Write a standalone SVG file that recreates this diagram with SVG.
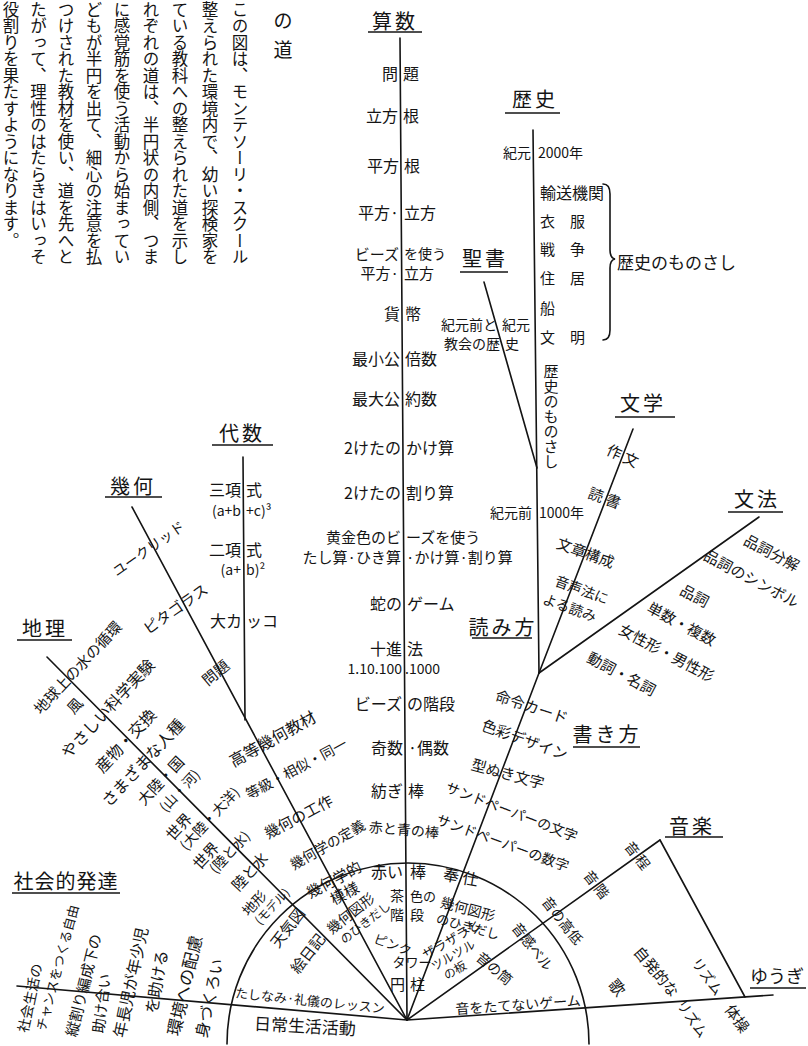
<svg xmlns="http://www.w3.org/2000/svg" width="808" height="1046" viewBox="0 0 808 1046">
<style>
text{font-family:"Noto Sans CJK JP","Noto Sans CJK SC",sans-serif;fill:#141414}
.c{text-anchor:middle;dominant-baseline:central}
.l{text-anchor:end;dominant-baseline:central}
.r{text-anchor:start;dominant-baseline:central}
.s{text-anchor:start;dominant-baseline:central}
.v{writing-mode:vertical-rl;font-size:16.5px}
.h{font-size:20px;letter-spacing:3px}
.ln{stroke:#141414;stroke-width:1.6;fill:none;stroke-linecap:round}
.u{stroke:#141414;stroke-width:1.5}
.f17{font-size:17px}.f16{font-size:16px}.f15{font-size:15px}.f14{font-size:14px}.f13{font-size:13px}.f12{font-size:12px}
</style>
<rect width="808" height="1046" fill="#fff"/>

<g id="connectors" class="ln">
<path d="M400,38 L407,1020"/>
<path d="M533,130 L539,673"/>
<path d="M484,282 L537,468"/>
<path d="M633,429 L539,673"/>
<path d="M759,517 L539,673"/>
<path d="M539,673 L407,1020"/>
<path d="M243,457 L245,720"/>
<path d="M132,507 L407,1020"/>
<path d="M47,657 L407,1020"/>
<path d="M660,840 L407,1020"/>
<path d="M660,840 L745,997"/>
<path d="M17,986 L407,1020"/>
<path d="M407,1020 L773,995"/>
<path d="M227,1044 A181,181 0 0 1 589,1044"/>
<path d="M603,184 Q610,184 610,194 L610,250 Q610,258 615,259 Q610,260 610,268 L610,330 Q610,340 603,340"/>
</g>

<g id="description">
<text class="c" x="283" y="19" style="font-size:19px">の</text>
<text class="c" x="283" y="48" style="font-size:19px">道</text>
<text class="v" x="240" y="1">この図は、モンテソーリ・スクール</text>
<text class="v" x="210" y="1">整えられた環境内で、幼い探検家を</text>
<text class="v" x="180" y="1">ている教科への整えられた道を示し</text>
<text class="v" x="151" y="1">れぞれの道は、半円状の内側、つま</text>
<text class="v" x="122" y="1">に感覚筋を使う活動から始まってい</text>
<text class="v" x="94" y="1">どもが半円を出て、細心の注意を払</text>
<text class="v" x="66" y="1">つけされた教材を使い、道を先へと</text>
<text class="v" x="38.5" y="1">たがって、理性のはたらきはいっそ</text>
<text class="v" x="11" y="1">役割りを果たすようになります。</text>
</g>

<g id="math" class="f16">
<text class="c h" x="395" y="20">算数</text>
<line class="u" x1="368" y1="32" x2="422" y2="32"/>
<text class="l" x="398" y="73">問</text><text class="r" x="403" y="73">題</text>
<text class="l" x="398" y="115">立方</text><text class="r" x="403" y="115">根</text>
<text class="l" x="399" y="165">平方</text><text class="r" x="404" y="165">根</text>
<text class="l" x="399" y="212">平方·</text><text class="r" x="404" y="212">立方</text>
<text class="l f15" x="399" y="253">ビーズ</text><text class="r f14" x="404" y="253">を使う</text>
<text class="l f15" x="399" y="272">平方·</text><text class="r f15" x="404" y="272">立方</text>
<text class="l" x="400" y="313">貨</text><text class="r" x="405" y="313">幣</text>
<text class="l" x="400" y="358">最小公</text><text class="r" x="405" y="358">倍数</text>
<text class="l" x="400" y="398">最大公</text><text class="r" x="405" y="398">約数</text>
<text class="l" x="401" y="447">2けたの</text><text class="r" x="406" y="447">かけ算</text>
<text class="l" x="401" y="492">2けたの</text><text class="r" x="406" y="492">割り算</text>
<text class="l f15" x="401" y="536">黄金色のビ</text><text class="r f15" x="406" y="536">ーズを使う</text>
<text class="l f15" x="401" y="556">たし算·ひき算</text><text class="r f15" x="406" y="556">·かけ算·割り算</text>
<text class="l" x="402" y="603">蛇の</text><text class="r" x="407" y="603">ゲーム</text>
<text class="l" x="402" y="648">十進</text><text class="r" x="407" y="648">法</text>
<text class="l f14" x="402" y="668">1.10.100</text><text class="r f14" x="405" y="668">.1000</text>
<text class="l" x="402" y="703">ビーズ</text><text class="r" x="407" y="703">の階段</text>
<text class="l" x="403" y="747">奇数</text><text class="r" x="408" y="747">·偶数</text>
<text class="l" x="403" y="790">紡ぎ</text><text class="r" x="408" y="790">棒</text>
<text class="c f14" transform="translate(404,829) rotate(5)">赤と青の棒</text>
</g>

<g id="history" class="f16">
<text class="c h" x="535" y="98">歴史</text>
<line class="u" x1="505" y1="113" x2="560" y2="113"/>
<text class="l f14" x="531" y="152">紀元</text><text class="r f14" x="538" y="152">2000年</text>
<text class="r" x="540" y="192">輸送機関</text>
<text class="r f15" x="540" y="220">衣　服</text>
<text class="r f15" x="540" y="248">戦　争</text>
<text class="r f15" x="540" y="277">住　居</text>
<text class="r f15" x="540" y="307">船</text>
<text class="r f15" x="540" y="336">文　明</text>
<text class="r f17" x="617" y="261">歴史のものさし</text>
<text x="551" y="364" style="writing-mode:vertical-rl;font-size:15px">歴史のものさし</text>
<text class="l f14" x="532" y="512">紀元前</text><text class="r f14" x="539" y="512">1000年</text>
</g>

<g id="bible" class="f14">
<text class="c h" x="485" y="257">聖書</text>
<line class="u" x1="460" y1="272" x2="508" y2="272"/>
<text class="l" x="497" y="324">紀元前と</text><text class="r" x="502" y="324">紀元</text>
<text class="l" x="500" y="343">教会の歴</text><text class="r" x="505" y="343">史</text>
</g>

<g id="literature" class="f15">
<text class="c h" x="643" y="402">文学</text>
<line class="u" x1="615" y1="417" x2="675" y2="417"/>
<text class="c" transform="translate(623,455) rotate(25)">作 文</text>
<text class="c" transform="translate(605,497) rotate(20)">読 書</text>
<text class="c" transform="translate(586,552) rotate(20)">文章構成</text>
<text class="c f14" transform="translate(582,589) rotate(20)">音声法に</text>
<text class="c f14" transform="translate(570,607) rotate(20)">よる読み</text>
</g>

<g id="grammar" class="f15">
<text class="c h" x="757" y="498">文法</text>
<line class="u" x1="728" y1="512" x2="783" y2="512"/>
<text class="c" transform="translate(772,552) rotate(28)">品詞分解</text>
<text class="c" transform="translate(752,578) rotate(28)">品詞のシンボル</text>
<text class="c" transform="translate(695,595) rotate(28)">品詞</text>
<text class="c" transform="translate(682,623) rotate(28)">単数・複数</text>
<text class="c" transform="translate(667,652) rotate(28)">女性形・男性形</text>
<text class="c" transform="translate(622,673) rotate(28)">動詞・名詞</text>
</g>

<g id="reading">
<text class="c h" x="503" y="626">読み方</text>
<line class="u" x1="472" y1="638" x2="532" y2="638"/>
</g>

<g id="writing" class="f15">
<text class="c h" x="607" y="733">書き方</text>
<line class="u" x1="573" y1="747" x2="640" y2="747"/>
<text class="c" transform="translate(532,706) rotate(18)">命令カード</text>
<text class="c" transform="translate(525,739) rotate(20)">色彩デザイン</text>
<text class="c" transform="translate(508,773) rotate(15)">型ぬき文字</text>
<text class="c f14" transform="translate(512,811) rotate(21)">サンドペーパーの文字</text>
<text class="c f14" transform="translate(503,842) rotate(20)">サンドペーパーの数字</text>
</g>

<g id="algebra" class="f16">
<text class="c h" x="242" y="432">代数</text>
<line class="u" x1="212" y1="445" x2="273" y2="445"/>
<text class="l" x="241" y="489">三項</text><text class="r" x="246" y="489">式</text>
<text class="l f14" x="241" y="510">(a+b</text><text class="r f14" x="246" y="510">+c)³</text>
<text class="l" x="241" y="549">二項</text><text class="r" x="246" y="549">式</text>
<text class="l f14" x="241" y="569">(a+</text><text class="r f14" x="246" y="569">b)²</text>
<text class="l" x="242" y="620">大カ</text><text class="r" x="246" y="620">ッコ</text>
</g>

<g id="geometry" class="f15">
<text class="c h" x="133" y="485">幾何</text>
<line class="u" x1="105" y1="497" x2="162" y2="497"/>
<text class="c f14" transform="translate(148,548) rotate(-35)">ユークリッド</text>
<text class="c" transform="translate(175,608) rotate(-35)">ピタゴラス</text>
<text class="c" transform="translate(215,672) rotate(-40)">問題</text>
<text class="c f16" transform="translate(272,738) rotate(-29)">高等幾何教材</text>
<text class="c f14" transform="translate(296,768) rotate(-28)">等級・相似・同一</text>
<text class="c" transform="translate(298,816) rotate(-28)">幾何の工作</text>
<text class="c f14" transform="translate(327,844) rotate(-30)">幾何学の定義</text>
</g>

<g id="geography" class="f16">
<text class="c h" x="45" y="627">地理</text>
<line class="u" x1="17" y1="640" x2="72" y2="640"/>
<text class="c f15" transform="translate(77,667) rotate(-47)">地球上の水の循環</text>
<text class="c f15" transform="translate(74,705) rotate(-47)">風</text>
<text class="c" transform="translate(107,708) rotate(-47)">やさしい科学実験</text>
<text class="c" transform="translate(125,740) rotate(-47)">産物・交換</text>
<text class="c" transform="translate(142,762) rotate(-47)">さまざまな人種</text>
<text class="c f15" transform="translate(160,780) rotate(-47)">大陸・国</text>
<text class="c f14" transform="translate(179,790) rotate(-47)">(山・河)</text>
<g transform="translate(168,837) rotate(-47)"><text class="s f15" x="0" y="0">世界</text><text class="s f14" x="2" y="17">(大陸・大洋)</text></g>
<g transform="translate(195,866) rotate(-47)"><text class="s f15" x="0" y="0">世界</text><text class="s f14" x="8" y="15">(陸と水)</text></g>
<text class="c f15" transform="translate(249,871) rotate(-47)">陸と水</text>
<g transform="translate(244,913) rotate(-47)"><text class="s f14" x="0" y="0">地形</text><text class="s f12" x="2" y="15">(モデル)</text></g>
</g>

<g id="sensorial" class="f15">
<text class="c" transform="translate(287,927) rotate(-52)">天気図</text>
<text class="c" transform="translate(307,953) rotate(-52)">絵日記</text>
<g transform="translate(307,893) rotate(-28)"><text class="s" x="0" y="0">幾何学的</text><text class="s" x="18" y="17">模様</text></g>
<g transform="translate(328,930) rotate(-38)"><text class="s f14" x="0" y="0">幾何図形</text><text class="s f12" x="4" y="16">のひきだし</text></g>
<text class="l f16" x="403" y="871">赤い</text><text class="r f16" x="410" y="871">棒</text>
<text class="l f14" x="404" y="895">茶</text><text class="r f13" x="410" y="895">色の</text>
<text class="l f14" x="404" y="914">階</text><text class="r f14" x="410" y="914">段</text>
<text class="c f13" transform="translate(393,944) rotate(20)">ピンク</text>
<text class="c f13" x="412" y="961">タワー</text>
<text class="l" x="405" y="983">円</text><text class="r" x="410" y="983">柱</text>
<text class="c f16" transform="translate(461,876) rotate(10)">奉 仕</text>
<g transform="translate(441,901) rotate(15)"><text class="s f14" x="0" y="0">幾何図形</text><text class="s f13" x="0" y="17">のひきだし</text></g>
<g transform="translate(423,955) rotate(-30)"><text class="s f13" x="0" y="0">ザラザラと</text><text class="s f12" x="2" y="14">ツルツル</text><text class="s f12" x="8" y="28">の板</text></g>
<text class="c f14" transform="translate(495,968) rotate(40)">音の筒</text>
<text class="c f14" transform="translate(518,1004) rotate(-4)">音をたてないゲーム</text>
<text class="c f13" transform="translate(310,1000) rotate(6)">たしなみ·礼儀のレッスン</text>
<text class="c f17" transform="translate(305,1025) rotate(3)">日常生活活動</text>
</g>

<g id="music" class="f14">
<text class="c h" x="692" y="825">音楽</text>
<line class="u" x1="665" y1="837" x2="723" y2="837"/>
<text class="c" transform="translate(638,855) rotate(52)">音 程</text>
<text class="c" transform="translate(597,884) rotate(52)">音 階</text>
<text class="c" transform="translate(563,920) rotate(52)">音の高低</text>
<text class="c" transform="translate(533,946) rotate(52)">音感ベル</text>
<text class="c f15" transform="translate(657,971) rotate(50)">自発的な</text>
<text class="c" transform="translate(708,976) rotate(54)">リズム</text>
<text class="c f16" transform="translate(618,987) rotate(50)">歌</text>
<text class="c" transform="translate(693,1018) rotate(55)">リズム</text>
<text class="c f15" transform="translate(738,1018) rotate(55)">体操</text>
</g>

<g id="play">
<text class="c" x="777" y="975" style="font-size:18px">ゆうぎ</text>
<line class="u" x1="750" y1="988" x2="806" y2="988"/>
</g>

<g id="social">
<text class="c h" x="66" y="880" style="letter-spacing:1px">社会的発達</text>
<line class="u" x1="12" y1="893" x2="120" y2="893"/>
<text class="s f14" transform="translate(22,1032) rotate(-78)">社会生活の</text>
<text class="s f13" transform="translate(40,1030) rotate(-75)">チャンスをつくる自由</text>
<text class="s f15" transform="translate(70,1036) rotate(-76)">縦割り編成下の</text>
<text class="s f15" transform="translate(97,1033) rotate(-83)">助け合い</text>
<text class="s f16" transform="translate(118,1037) rotate(-78)">年長児が年少児</text>
<text class="s f16" transform="translate(150,1013) rotate(-80)">を助ける</text>
<text class="s f17" transform="translate(172,1035) rotate(-77)">環境への配慮</text>
<text class="s f16" transform="translate(200,1037) rotate(-78)">身づくろい</text>
</g>
</svg>
